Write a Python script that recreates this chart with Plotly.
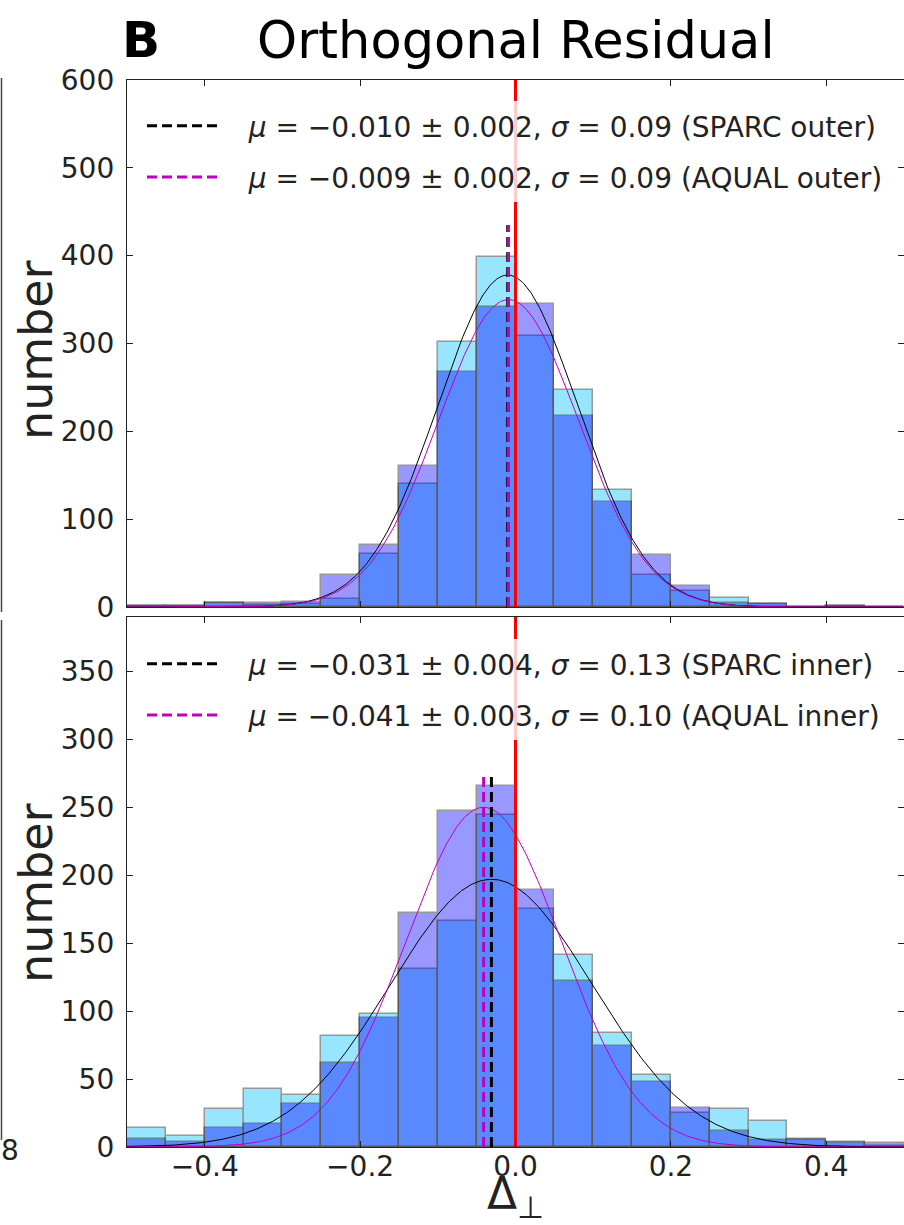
import numpy as np
import plotly.graph_objects as go

# ---------------- data ----------------
bin_left = [-0.50, -0.45, -0.40, -0.35, -0.30, -0.25, -0.20, -0.15, -0.10, -0.05,
            0.00, 0.05, 0.10, 0.15, 0.20, 0.25, 0.30, 0.35, 0.40, 0.45]
bin_width = 0.05

sparc_outer = [1, 1, 4, 2, 3, 9, 60, 140, 302, 399, 309, 247, 133, 37, 18, 10, 3, 0, 1, 0]
aqual_outer = [1, 1, 4, 4, 6, 37, 71, 161, 267, 342, 345, 218, 120, 59, 24, 5, 3, 0, 1, 0]
sparc_inner = [14, 8, 28, 43, 38, 82, 98, 131, 166, 244, 175, 141, 84, 53, 25, 28, 19, 5, 4, 1]
aqual_inner = [6, 4, 14, 17, 32, 62, 95, 172, 247, 266, 189, 122, 74, 48, 29, 12, 5, 6, 3, 3]

# fit parameters (legend) and fitted peak heights
fit_mu = {"sparc_outer": -0.010, "aqual_outer": -0.009, "sparc_inner": -0.031, "aqual_inner": -0.041}
fit_sigma = {"sparc_outer": 0.09, "aqual_outer": 0.09, "sparc_inner": 0.13, "aqual_inner": 0.10}
fit_peak = {"sparc_outer": 378, "aqual_outer": 350, "sparc_inner": 197, "aqual_inner": 250}
mu_line_top = {"outer": 435, "inner": 276}

GAP = "\u00a0\u00a0\u00a0"
legend_text = {
    "sparc_outer": GAP + "<i>μ</i> = −0.010 ± 0.002, <i>σ</i> = 0.09 (SPARC outer)",
    "aqual_outer": GAP + "<i>μ</i> = −0.009 ± 0.002, <i>σ</i> = 0.09 (AQUAL outer)",
    "sparc_inner": GAP + "<i>μ</i> = −0.031 ± 0.004, <i>σ</i> = 0.13 (SPARC inner)",
    "aqual_inner": GAP + "<i>μ</i> = −0.041 ± 0.003, <i>σ</i> = 0.10 (AQUAL inner)",
}

x_ticks = [-0.4, -0.2, 0.0, 0.2, 0.4]
x_ticklabels = ["−0.4", "−0.2", "0.0", "0.2", "0.4"]
y_ticks_top = [0, 100, 200, 300, 400, 500, 600]
y_ticks_bot = [0, 50, 100, 150, 200, 250, 300, 350]

# ---------------- style ----------------
FONT = "DejaVu Sans"
CYAN = "rgb(0,191,255)"
BLUE = "rgb(0,0,255)"
MAG = "rgb(191,0,191)"

centers = [b + bin_width / 2 for b in bin_left]
xg = np.linspace(-0.5, 0.5, 600)

fig = go.Figure()


def add_panel(xa, ya, sparc, aqual, ks, ka, ytop, leg):
    for vals, col in ((sparc, CYAN), (aqual, BLUE)):
        fig.add_trace(go.Bar(x=centers, y=vals, width=bin_width,
                             marker=dict(color=col, line=dict(color="black", width=1.5)),
                             opacity=0.4, showlegend=False, xaxis=xa, yaxis=ya, hoverinfo="skip"))
    for k, col in ((ks, "black"), (ka, MAG)):
        yg = fit_peak[k] * np.exp(-(xg - fit_mu[k]) ** 2 / (2 * fit_sigma[k] ** 2))
        fig.add_trace(go.Scatter(x=xg, y=yg, mode="lines", line=dict(color=col, width=1), showlegend=False,
                                 xaxis=xa, yaxis=ya, hoverinfo="skip"))
    for k, col in ((ks, "black"), (ka, MAG)):
        fig.add_trace(go.Scatter(x=[fit_mu[k], fit_mu[k]], y=[0, ytop], mode="lines",
                                 line=dict(color=col, width=3, dash="10px,5px"), name=legend_text[k],
                                 legend=leg, legendgroup=k, xaxis=xa, yaxis=ya, hoverinfo="skip"))


add_panel("x", "y", sparc_outer, aqual_outer, "sparc_outer", "aqual_outer", mu_line_top["outer"], "legend")
add_panel("x2", "y2", sparc_inner, aqual_inner, "sparc_inner", "aqual_inner", mu_line_top["inner"], "legend2")

# red zero lines
fig.add_trace(go.Scatter(x=[0, 0], y=[0, 600], mode="lines", line=dict(color="red", width=3), showlegend=False,
                         xaxis="x", yaxis="y", hoverinfo="skip"))
fig.add_trace(go.Scatter(x=[0, 0], y=[0, 390], mode="lines", line=dict(color="red", width=3), showlegend=False,
                         xaxis="x2", yaxis="y2", hoverinfo="skip"))

H_TOP, H_BOT = 80, 78
PH = 1225 - H_TOP - H_BOT


def py(px):
    return (1225 - H_BOT - px) / PH


def pxx(px):
    return (px - 127) / 777


axis_common = dict(showline=True, linecolor="#222", linewidth=1.3, mirror="ticks", ticks="inside",
                   ticklen=6, tickwidth=1.3, tickcolor="#222", showgrid=False, zeroline=False,
                   automargin=False, tickfont=dict(family=FONT, size=28, color="#222"))

legend_common = dict(xanchor="left", yanchor="top", bgcolor="rgba(255,255,255,0.8)",
                     font=dict(family=FONT, size=28, color="#222"), traceorder="grouped",
                     tracegroupgap=12, itemwidth=70)

fig.update_layout(
    width=904, height=1225,
    margin=dict(l=127, r=0, t=H_TOP, b=H_BOT, autoexpand=False),
    plot_bgcolor="white", paper_bgcolor="white",
    barmode="overlay", bargap=0,
    font=dict(family=FONT, color="#222"),
    xaxis=dict(domain=[0, 1], range=[-0.5, 0.5], tickvals=x_ticks, showticklabels=False, anchor="y", **axis_common),
    yaxis=dict(domain=[py(607), 1], range=[0, 600], tickvals=y_ticks_top, anchor="x", ticklabelstandoff=6,
               **axis_common),
    xaxis2=dict(domain=[0, 1], range=[-0.5, 0.5], tickvals=x_ticks, ticktext=x_ticklabels, anchor="y2",
                ticklabelstandoff=-6,
                title=dict(text="Δ<sub>⊥</sub>", font=dict(family=FONT, size=44, color="#222"), standoff=2),
                **axis_common),
    yaxis2=dict(domain=[0, py(617)], range=[0, 390], tickvals=y_ticks_bot, anchor="x2", ticklabelstandoff=6,
                **axis_common),
    legend=dict(x=pxx(142), y=py(101), **legend_common),
    legend2=dict(x=pxx(142), y=py(639), **legend_common),
    annotations=[
        dict(text="Orthogonal Residual", xref="paper", yref="paper", x=pxx(516), y=py(41), xanchor="center",
             yanchor="middle", showarrow=False, font=dict(family=FONT, size=51, color="black")),
        dict(text="<b>B</b>", xref="paper", yref="paper", x=pxx(141), y=py(40), xanchor="center",
             yanchor="middle", showarrow=False, font=dict(family=FONT, size=50, color="black")),
        dict(text="number", xref="paper", yref="paper", x=pxx(36), y=py(350), xanchor="center",
             yanchor="middle", textangle=-90, showarrow=False, font=dict(family=FONT, size=46, color="#222")),
        dict(text="number", xref="paper", yref="paper", x=pxx(36), y=py(893), xanchor="center",
             yanchor="middle", textangle=-90, showarrow=False, font=dict(family=FONT, size=46, color="#222")),
        dict(text="8", xref="paper", yref="paper", x=pxx(10), y=py(1150), xanchor="center",
             yanchor="middle", showarrow=False, font=dict(family=FONT, size=28, color="#222")),
    ],
    shapes=[
        dict(type="line", xref="paper", yref="paper", x0=pxx(1.5), x1=pxx(1.5), y0=py(78), y1=py(612),
             line=dict(color="#444", width=1.5)),
        dict(type="line", xref="paper", yref="paper", x0=pxx(1.5), x1=pxx(1.5), y0=py(620), y1=py(1140),
             line=dict(color="#444", width=1.5)),
    ],
)

fig.write_html("out.html")
